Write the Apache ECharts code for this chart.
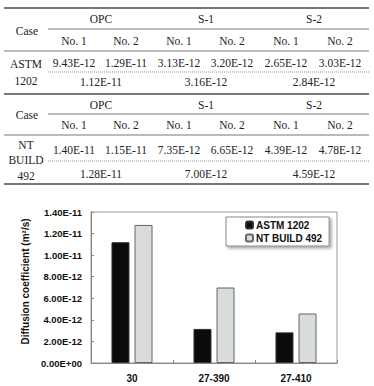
<!DOCTYPE html>
<html>
<head>
<meta charset="utf-8">
<script src="https://cdn.jsdelivr.net/npm/echarts@6/dist/echarts.min.js"></script>
<style>
  html, body { margin: 0; padding: 0; background: #fff; }
  #main { width: 374px; height: 386px; }
</style>
</head>
<body>
<div id="main"></div>
<script>
// 数据
const groups = ['OPC', 'S-1', 'S-2'];
const subCols = ['No. 1', 'No. 2', 'No. 1', 'No. 2', 'No. 1', 'No. 2'];
const astmSpecimens = [9.43e-12, 1.29e-11, 3.13e-12, 3.20e-12, 2.65e-12, 3.03e-12];
const astmMeans = [1.12e-11, 3.16e-12, 2.84e-12];
const ntSpecimens = [1.40e-11, 1.15e-11, 7.35e-12, 6.65e-12, 4.39e-12, 4.78e-12];
const ntMeans = [1.28e-11, 7.00e-12, 4.59e-12];
const categories = ['30', '27-390', '27-410'];
const seriesNames = ['ASTM 1202', 'NT BUILD 492'];
const yTickLabels = ['0.00E+00', '2.00E-12', '4.00E-12', '6.00E-12', '8.00E-12', '1.00E-11', '1.20E-11', '1.40E-11'];

// 科学计数法格式 (9.43E-12)
function fmtE(v) {
  if (v === 0) return '0.00E+00';
  const parts = v.toExponential(2).split('e');
  const exp = parseInt(parts[1], 10);
  const sign = exp < 0 ? '-' : '+';
  return parts[0] + 'E' + sign + String(Math.abs(exp)).padStart(2, '0');
}

const chartDom = document.getElementById('main');
const myChart = echarts.init(chartDom, null, { renderer: 'svg' });

const serif = '11.5px "Liberation Serif", "Times New Roman", serif';
const textColor = '#222';
const lineColor = '#777';
const colX = [74, 126, 179, 232, 286, 340];
const groupX = [101, 206, 314];

function txt(text, x, y) {
  return {
    type: 'text', x: x, y: y, silent: true,
    style: {
      text: text, font: serif, fill: textColor,
      align: 'center', verticalAlign: 'middle',
      textAlign: 'center', textVerticalAlign: 'middle',
    },
  };
}
function hline(x1, x2, y, w, dash) {
  return {
    type: 'line', silent: true,
    shape: { x1: x1, y1: y, x2: x2, y2: y },
    style: { stroke: lineColor, lineWidth: w, lineDash: dash || null },
  };
}

// 表格
function buildTable(top, rowLabels, specimens, means, pos) {
  const els = [];
  els.push(hline(4, 369, top, 2));
  els.push(hline(48, 369, pos.groupLine, 1));
  els.push(hline(4, 369, pos.subLine, 1));
  els.push(hline(48, 369, pos.dotLine, 0.8, [1, 1]));
  els.push(hline(4, 369, pos.bottom, 2));
  els.push(txt('Case', 27, pos.caseY));
  groups.forEach((g, i) => els.push(txt(g, groupX[i], pos.groupY)));
  subCols.forEach((s, i) => els.push(txt(s, colX[i], pos.subY)));
  specimens.forEach((v, i) => els.push(txt(fmtE(v), colX[i], pos.valY)));
  means.forEach((v, i) => els.push(txt(fmtE(v), groupX[i], pos.meanY)));
  rowLabels.forEach((l, i) => els.push(txt(l, 26, pos.labelY[i])));
  return els;
}

const graphics = []
  .concat(buildTable(8, ['ASTM', '1202'], astmSpecimens, astmMeans, {
    groupLine: 29, subLine: 51, dotLine: 72, bottom: 94,
    caseY: 31, groupY: 19, subY: 41, valY: 63, meanY: 82, labelY: [64, 81],
  }))
  .concat(buildTable(94, ['NT', 'BUILD', '492'], ntSpecimens, ntMeans, {
    groupLine: 114, subLine: 135, dotLine: 161, bottom: 184,
    caseY: 115, groupY: 105, subY: 125, valY: 150, meanY: 174, labelY: [145, 160, 176],
  }));

const sans = '"Liberation Sans", Arial, sans-serif';

const option = {
  animation: false,
  graphic: graphics,
  grid: {
    left: 91, top: 212, right: 37, bottom: 23,
    show: true, borderColor: '#999', borderWidth: 1, backgroundColor: '#fff',
  },
  legend: {
    orient: 'vertical',
    left: 226, top: 217,
    padding: [3, 7, 3, 19],
    itemWidth: 7, itemHeight: 7, itemGap: 3,
    backgroundColor: '#fff',
    borderColor: '#888', borderWidth: 1,
    shadowColor: 'rgba(0,0,0,0.35)', shadowBlur: 3, shadowOffsetX: 2, shadowOffsetY: 2,
    textStyle: { fontFamily: sans, fontWeight: 'bold', fontSize: 10, color: '#111', padding: [0, 0, 0, -2] },
    data: seriesNames,
  },
  xAxis: {
    type: 'category',
    data: categories,
    axisLine: { lineStyle: { color: '#888' } },
    axisTick: { show: true, inside: true, length: 3, lineStyle: { color: '#888' } },
    axisLabel: { fontFamily: sans, fontWeight: 'bold', fontSize: 10, color: '#111', margin: 10 },
  },
  yAxis: {
    type: 'value',
    min: 0, max: 1.4e-11, interval: 2e-12,
    name: 'Diffusion coefficient (m²/s)',
    nameLocation: 'middle',
    nameGap: 51,
    nameTextStyle: { fontFamily: sans, fontWeight: 'bold', fontSize: 10, color: '#111', padding: [0, 0, 0, 12] },
    axisLine: { show: true, lineStyle: { color: '#888' } },
    axisTick: { show: true, inside: true, length: 3, lineStyle: { color: '#888' } },
    splitLine: { show: false },
    axisLabel: {
      fontFamily: sans, fontWeight: 'bold', fontSize: 9.5, color: '#111', margin: 9,
      formatter: v => yTickLabels[Math.round(v / 2e-12)],
    },
  },
  series: [
    {
      name: seriesNames[0], type: 'bar', data: astmMeans,
      barWidth: 18, barGap: '28%',
      itemStyle: { color: '#0b0b0b', borderColor: '#333', borderWidth: 1 },
    },
    {
      name: seriesNames[1], type: 'bar', data: ntMeans,
      barWidth: 18,
      itemStyle: { color: '#d9dcdc', borderColor: '#666', borderWidth: 1 },
    },
  ],
};

myChart.setOption(option);
</script>
</body>
</html>
